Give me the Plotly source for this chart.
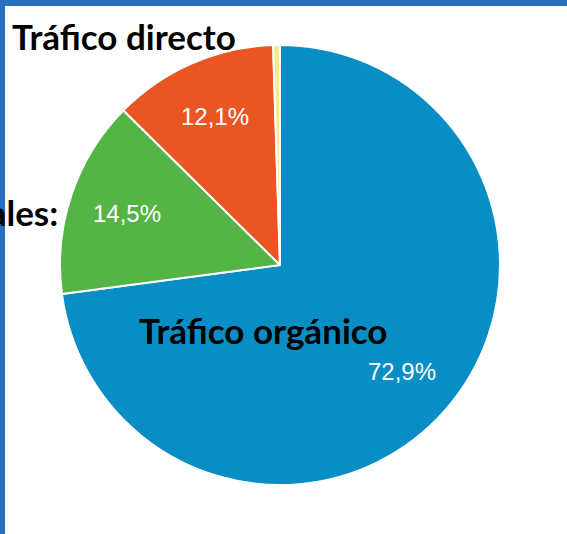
import math
import plotly.graph_objects as go

labels = ["Tráfico orgánico", "Redes sociales", "Tráfico directo", "Otros"]
values = [72.9, 14.5, 12.1, 0.5]
pct_text = ["72,9%", "14,5%", "12,1%", ""]
colors = ["#098dc5", "#54b446", "#ea5623", "#f6ec8e"]

W, H = 567, 534
cx, cy, R = 280, 265, 220

fig = go.Figure(go.Pie(
    labels=labels, values=values, sort=False, direction="clockwise", rotation=0,
    marker=dict(colors=colors, line=dict(color="white", width=2)),
    textinfo="none", hoverinfo="label+percent", showlegend=False,
    domain=dict(x=[(cx - R) / W, (cx + R) / W], y=[(H - cy - R) / H, (H - cy + R) / H]),
))

annotations = []
total = sum(values)
cum = 0
for v, t in zip(values, pct_text):
    mid = (cum + v / 2) / total * 2 * math.pi
    cum += v
    if not t:
        continue
    r = 0.735 * R
    px = cx + r * math.sin(mid)
    py = cy - r * math.cos(mid)
    annotations.append(dict(x=px / W, y=1 - py / H, xref="paper", yref="paper", text=t,
                            xanchor="center", yanchor="middle", showarrow=False,
                            font=dict(family="Liberation Sans, Arial", size=24, color="white")))

big = dict(family="Lato, Carlito, sans-serif", size=35, color="black")
annotations += [
    dict(x=10 / W, y=1 - 36 / H, xref="paper", yref="paper", xanchor="left", yanchor="middle",
         text="<b>Tráfico directo</b>", showarrow=False, font=big),
    dict(x=60 / W, y=1 - 212 / H, xref="paper", yref="paper", xanchor="right", yanchor="middle",
         text="<b>Redes sociales:</b>", showarrow=False, font=big),
    dict(x=263 / W, y=1 - 330 / H, xref="paper", yref="paper", xanchor="center", yanchor="middle",
         text="<b>Tráfico orgánico</b>", showarrow=False, font=big),
]

shapes = [
    dict(type="rect", xref="paper", yref="paper", x0=0, x1=1, y0=1 - 6 / H, y1=1,
         fillcolor="#2a72bd", line=dict(width=0), layer="below"),
    dict(type="rect", xref="paper", yref="paper", x0=0, x1=5 / W, y0=0, y1=1,
         fillcolor="#2a72bd", line=dict(width=0), layer="below"),
]

fig.update_layout(width=W, height=H, margin=dict(l=0, r=0, t=0, b=0),
                  paper_bgcolor="white", plot_bgcolor="white",
                  annotations=annotations, shapes=shapes)
fig.write_html("out.html", config=dict(displayModeBar=False),
               post_script="document.body.style.margin='0';document.body.style.overflow='hidden';")
